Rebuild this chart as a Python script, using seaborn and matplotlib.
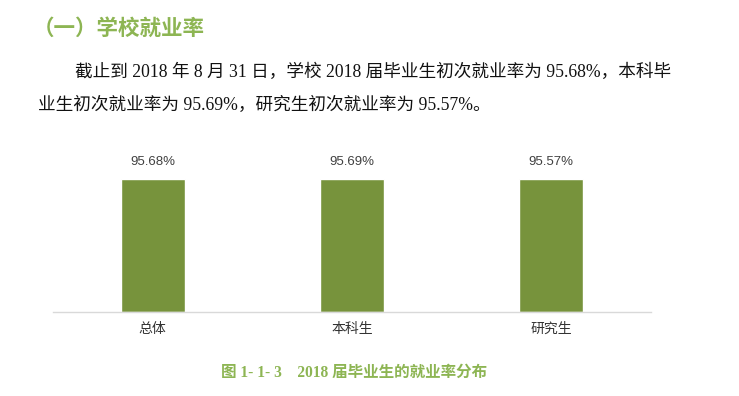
import pandas as pd
import matplotlib
matplotlib.use('Agg')
import matplotlib.pyplot as plt
import seaborn as sns

# 数据
categories = ['总体', '本科生', '研究生']
rates = [95.68, 95.69, 95.57]
rate_labels = ['95.68%', '95.69%', '95.57%']

df = pd.DataFrame({'类别': categories, '就业率': rates})

sns.set_style('white')
plt.rcParams['font.family'] = ['Noto Sans CJK SC', 'DejaVu Sans']

bar_color = '#77933C'
title_green = '#8DB553'
serif_cjk = ['Liberation Serif', 'Noto Sans CJK SC']

fig = plt.figure(figsize=(7.39, 3.96), dpi=100)
ax = fig.add_axes([0.0717, 0.2121, 0.809, 0.386])

sns.barplot(data=df, x='类别', y='就业率', color=bar_color, width=0.32,
            saturation=1, ax=ax)
ax.set_ylim(0, 110)
ax.set_xlim(-0.5, 2.5)

ax.bar_label(ax.containers[0], labels=rate_labels, padding=8,
             fontsize=9.5, color='#404040', family=['Liberation Sans', 'DejaVu Sans'])

ax.set_xlabel('')
ax.set_ylabel('')
ax.set_yticks([])
for side in ['top', 'right', 'left']:
    ax.spines[side].set_visible(False)
ax.spines['bottom'].set_color('#D9D9D9')
ax.spines['bottom'].set_linewidth(1)
ax.tick_params(axis='x', length=0, pad=7, labelsize=10, colors='#333333')

# 标题与正文
fig.text(33 / 739, 1 - 28 / 396, '（一）学校就业率', fontsize=15.5,
         fontweight='bold', color=title_green, va='center', ha='left')
fig.text(75 / 739, 1 - 72 / 396,
         '截止到 2018 年 8 月 31 日，学校 2018 届毕业生初次就业率为 95.68%，本科毕',
         fontsize=12.7, family=serif_cjk, color='#111111', va='center', ha='left')
fig.text(38 / 739, 1 - 105 / 396,
         '业生初次就业率为 95.69%，研究生初次就业率为 95.57%。',
         fontsize=12.7, family=serif_cjk, color='#111111', va='center', ha='left')

# 图注
fig.text(221 / 739, 1 - 373 / 396, '图 1- 1- 3    2018 届毕业生的就业率分布',
         fontsize=11.2, fontweight='bold', family=serif_cjk, color=title_green,
         va='center', ha='left')

plt.savefig('out.png', dpi=100)
plt.close()
